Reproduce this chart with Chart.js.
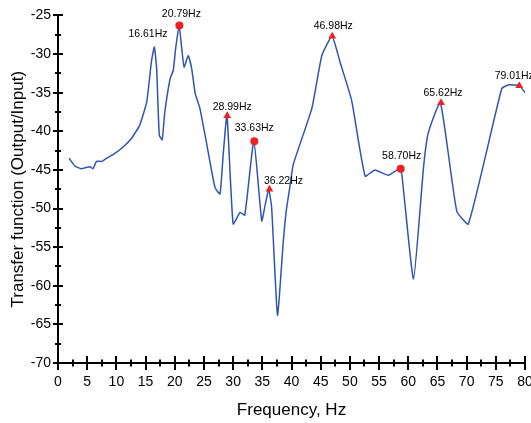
<!DOCTYPE html>
<html>
<head>
<meta charset="utf-8">
<script src="https://cdn.jsdelivr.net/npm/chart.js@4/dist/chart.umd.min.js"></script>
<style>
html, body { margin: 0; padding: 0; background: #fff; }
</style>
</head>
<body>
<canvas id="tf-chart" width="531" height="423"></canvas>
<script>
// 曲线数据
const freqHz = [
    1.9, 2.9, 4.0, 4.8, 5.5, 6.0, 6.6, 7.5, 8.3, 9.5,
    11.2, 12.6, 14.0, 15.2, 16.0, 16.5, 16.9, 17.35, 17.85, 18.3,
    19.2, 19.75, 20.15, 20.75, 21.2, 21.6, 22.3, 22.9, 23.5, 24.3,
    25.5, 26.9, 27.75, 28.3, 28.95, 30.0, 31.2, 32.0, 33.55, 34.9,
    35.5, 36.1, 36.6, 37.6, 38.6, 39.1, 39.7, 40.3, 43.5, 45.2,
    46.95, 48.3, 50.3, 52.6, 54.3, 56.6, 58.5, 58.9, 60.9, 62.6,
    63.4, 65.5, 68.3, 70.3, 76.0, 77.1, 79.0, 80.0
];
const transferDb = [
    -43.5, -44.5, -44.85, -44.7, -44.6, -44.85, -43.9, -43.9, -43.5, -43.0,
    -42.0, -40.9, -39.2, -36.2, -31.0, -29.1, -31.9, -40.5, -41.1, -37.5,
    -33.2, -32.1, -29.3, -26.3, -29.3, -31.7, -30.2, -31.9, -35.1, -37.0,
    -41.75, -47.3, -48.1, -43.0, -37.9, -52.0, -50.5, -50.85, -41.3, -51.6,
    -49.5, -47.5, -49.9, -63.8, -54.2, -50.3, -47.3, -44.3, -37.0, -30.2,
    -27.7, -31.0, -36.0, -45.8, -45.0, -45.7, -44.85, -45.6, -59.1, -44.8,
    -40.3, -36.3, -50.3, -52.0, -34.5, -34.0, -34.1, -35.0
];

// 峰值标注
const peakHz = [16.61, 20.79, 28.99, 33.63, 36.22, 46.98, 58.70, 65.62, 79.01];
const peakDb = [-29.1, -26.3, -38.0, -41.3, -47.5, -27.7, -44.85, -36.3, -34.1];
const peakMarker = ['none', 'circle', 'triangle', 'circle', 'triangle', 'triangle', 'circle', 'triangle', 'triangle'];

// 坐标轴范围
const xMin = 0, xMax = 80, xStep = 5;
const yMin = -70, yMax = -25, yStep = 5;

// 标签相对于峰值点的偏移（像素）
const labelOffsets = [[-7, -13], [2, -11], [5, -9], [0, -13], [14, -8], [1, -10], [1, -13], [2, -10], [-5, -10]];

const FONT = '"Liberation Sans", Arial, sans-serif';
const RED = '#ee2222';

function peakPoints(style) {
    const pts = [];
    peakHz.forEach((hz, i) => {
        if (peakMarker[i] === style) pts.push({ x: hz, y: peakDb[i] });
    });
    return pts;
}

// 自绘坐标轴及刻度（刻度线穿过轴线）
const axisPlugin = {
    id: 'crossAxes',
    afterDatasetsDraw(chart) {
        const { ctx, chartArea, scales } = chart;
        const x = scales.x, y = scales.y;
        ctx.save();
        ctx.strokeStyle = '#000';
        ctx.lineWidth = 2;
        ctx.beginPath();
        ctx.moveTo(chartArea.left, chartArea.top);
        ctx.lineTo(chartArea.left, chartArea.bottom);
        ctx.lineTo(chartArea.right, chartArea.bottom);
        ctx.stroke();

        ctx.beginPath();
        for (let v = xMin; v <= xMax; v += xStep / 2) {
            const px = Math.round(x.getPixelForValue(v));
            const len = (v % xStep === 0) ? 7 : 3.5;
            ctx.moveTo(px, chartArea.bottom - len);
            ctx.lineTo(px, chartArea.bottom + len);
        }
        for (let v = yMin; v <= yMax; v += yStep / 2) {
            const py = Math.round(y.getPixelForValue(v));
            const len = (v % yStep === 0) ? 5 : 3;
            ctx.moveTo(chartArea.left - len, py);
            ctx.lineTo(chartArea.left + len, py);
        }
        ctx.stroke();
        ctx.restore();
    }
};

// 峰值频率文字
const peakLabelPlugin = {
    id: 'peakLabels',
    afterDatasetsDraw(chart) {
        const { ctx, scales } = chart;
        ctx.save();
        ctx.font = '10.5px ' + FONT;
        ctx.fillStyle = '#000';
        ctx.textAlign = 'center';
        ctx.textBaseline = 'middle';
        peakHz.forEach((hz, i) => {
            const px = scales.x.getPixelForValue(hz) + labelOffsets[i][0];
            const py = scales.y.getPixelForValue(peakDb[i]) + labelOffsets[i][1];
            ctx.fillText(hz.toFixed(2) + 'Hz', px, py);
        });
        ctx.restore();
    }
};

const curve = freqHz.map((f, i) => ({ x: f, y: transferDb[i] }));

new Chart(document.getElementById('tf-chart'), {
    type: 'scatter',
    data: {
        datasets: [
            {
                data: curve,
                showLine: true,
                borderColor: '#2f55b0',
                borderWidth: 1.5,
                pointRadius: 0,
                tension: 0.15,
                order: 3
            },
            {
                data: peakPoints('circle'),
                pointStyle: 'circle',
                pointRadius: 4,
                backgroundColor: RED,
                borderColor: RED,
                borderWidth: 0,
                order: 1
            },
            {
                data: peakPoints('triangle'),
                pointStyle: 'triangle',
                pointRadius: 4.5,
                backgroundColor: RED,
                borderColor: RED,
                borderWidth: 0,
                order: 2
            }
        ]
    },
    options: {
        responsive: false,
        animation: false,
        layout: { padding: { top: 13, right: 6, left: 0, bottom: 0 } },
        plugins: {
            legend: { display: false },
            tooltip: { enabled: false }
        },
        scales: {
            x: {
                type: 'linear',
                min: xMin,
                max: xMax,
                grid: { display: false, drawTicks: false },
                border: { display: false },
                ticks: {
                    stepSize: xStep,
                    padding: 11,
                    color: '#000',
                    font: { family: FONT, size: 14 }
                },
                title: {
                    display: true,
                    text: 'Frequency, Hz',
                    color: '#000',
                    font: { family: FONT, size: 17 },
                    padding: { top: 0, bottom: 2 }
                },
                afterFit(scale) {
                    scale.height = 60;
                    scale.paddingLeft = 0;
                    scale.paddingRight = 0;
                }
            },
            y: {
                min: yMin,
                max: yMax,
                grid: { display: false, drawTicks: false },
                border: { display: false },
                ticks: {
                    stepSize: yStep,
                    padding: 7,
                    color: '#000',
                    font: { family: FONT, size: 14 }
                },
                title: {
                    display: true,
                    text: 'Transfer function (Output/Input)',
                    color: '#000',
                    font: { family: FONT, size: 17 },
                    padding: { top: 8, bottom: 0 }
                },
                afterFit(scale) {
                    scale.width = 58;
                }
            }
        }
    },
    plugins: [axisPlugin, peakLabelPlugin]
});
</script>
</body>
</html>
